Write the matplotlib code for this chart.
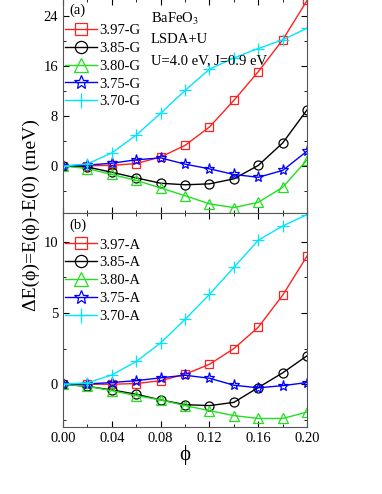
import matplotlib
matplotlib.use("Agg")
import matplotlib.pyplot as plt
from matplotlib.ticker import MultipleLocator, FormatStrFormatter

plt.rcParams['font.family'] = ['Liberation Serif', 'DejaVu Serif']
plt.rcParams['mathtext.fontset'] = 'stix'

phi = [0.00, 0.02, 0.04, 0.06, 0.08, 0.10, 0.12, 0.14, 0.16, 0.18, 0.20]

# panel (a): G-type
g_labels = ['3.97-G', '3.85-G', '3.80-G', '3.75-G', '3.70-G']
g_397 = [0, 0.05, 0.1, 0.4, 1.45, 3.3, 6.25, 10.5, 15.1, 20.2, 26.5]
g_385 = [0, -0.15, -1.0, -1.9, -2.75, -3.0, -2.85, -2.05, 0.1, 3.7, 9.0]
g_380 = [0, -0.4, -1.35, -2.3, -3.5, -4.75, -6.05, -6.65, -5.8, -3.4, 1.0]
g_375 = [0, 0.15, 0.45, 1.0, 1.3, 0.3, -0.45, -1.35, -1.8, -0.7, 2.4]
g_370 = [0, 0.35, 2.1, 4.95, 8.45, 12.1, 15.5, 17.3, 18.8, 20.2, 22.05]

# panel (b): A-type
a_labels = ['3.97-A', '3.85-A', '3.80-A', '3.75-A', '3.70-A']
a_397 = [0, 0, 0.0, 0.05, 0.25, 0.7, 1.4, 2.5, 4.0, 6.25, 9.0]
a_385 = [0, -0.15, -0.4, -0.7, -1.1, -1.43, -1.5, -1.27, -0.23, 0.8, 2.0]
a_380 = [0, -0.15, -0.45, -0.8, -1.1, -1.5, -1.85, -2.2, -2.4, -2.4, -1.95]
a_375 = [0, 0.02, 0.12, 0.25, 0.45, 0.63, 0.42, -0.07, -0.25, -0.1, 0.12]
a_370 = [0, 0.1, 0.65, 1.6, 2.9, 4.55, 6.3, 8.2, 10.1, 11.1, 11.9]

colors = ['#ff2020', '#000000', '#20e020', '#0000ff', '#00e5ff']
markers = ['s', 'o', '^', '*', '+']
msizes = [6, 6.5, 7, 8, 8]

fig = plt.figure(figsize=(3.82, 4.94), dpi=100)
ax1 = fig.add_axes([0.165, 0.569, 0.639, 0.434])
ax2 = fig.add_axes([0.165, 0.1356, 0.639, 0.433])


def draw(ax, series, labels):
    for y, lab, c, m, ms in zip(series, labels, colors, markers, msizes):
        ax.plot(phi, y, color=c, marker=m, markersize=ms, markerfacecolor='none',
                markeredgecolor=c, markeredgewidth=0.9, linewidth=1.0, label=lab)
    ax.set_xlim(0, 0.2)
    ax.xaxis.set_major_locator(MultipleLocator(0.04))
    ax.xaxis.set_minor_locator(MultipleLocator(0.02))
    ax.xaxis.set_major_formatter(FormatStrFormatter('%.2f'))
    ax.tick_params(which='both', direction='in', top=True, right=True, labelsize=10.5)
    ax.tick_params(which='major', length=4)
    ax.tick_params(which='minor', length=2.5)
    for s in ax.spines.values():
        s.set_color('#555555')
    ax.legend(loc='upper left', bbox_to_anchor=(-0.035, 0.93), frameon=False, fontsize=10.5,
              handlelength=2.2, handletextpad=0.2, labelspacing=0.32, markerscale=1.35,
              borderaxespad=0.3)


draw(ax1, [g_397, g_385, g_380, g_375, g_370], g_labels)
ax1.set_ylim(-7.5, 26.8)
ax1.yaxis.set_major_locator(MultipleLocator(8))
ax1.yaxis.set_minor_locator(MultipleLocator(4))
ax1.tick_params(labelbottom=False)
ax1.text(0.025, 0.975, '(a)', transform=ax1.transAxes, fontsize=10.5, va='top')
ax1.text(0.36, 0.94, 'BaFeO$_3$', transform=ax1.transAxes, fontsize=10.5, va='top')
ax1.text(0.36, 0.84, 'LSDA+U', transform=ax1.transAxes, fontsize=10.5, va='top')
ax1.text(0.36, 0.74, 'U=4.0 eV, J=0.9 eV', transform=ax1.transAxes, fontsize=10.5, va='top')

draw(ax2, [a_397, a_385, a_380, a_375, a_370], a_labels)
ax2.set_ylim(-3, 12)
ax2.yaxis.set_major_locator(MultipleLocator(5))
ax2.yaxis.set_minor_locator(MultipleLocator(2.5))
ax2.set_xlabel('ϕ', fontsize=15, labelpad=0)
ax2.text(0.025, 0.975, '(b)', transform=ax2.transAxes, fontsize=10.5, va='top')

fig.text(0.083, 0.565, 'ΔE(ϕ)=E(ϕ)-E(0) (meV)', rotation=90, fontsize=14,
         ha='center', va='center')

fig.savefig('out.png', dpi=100)
